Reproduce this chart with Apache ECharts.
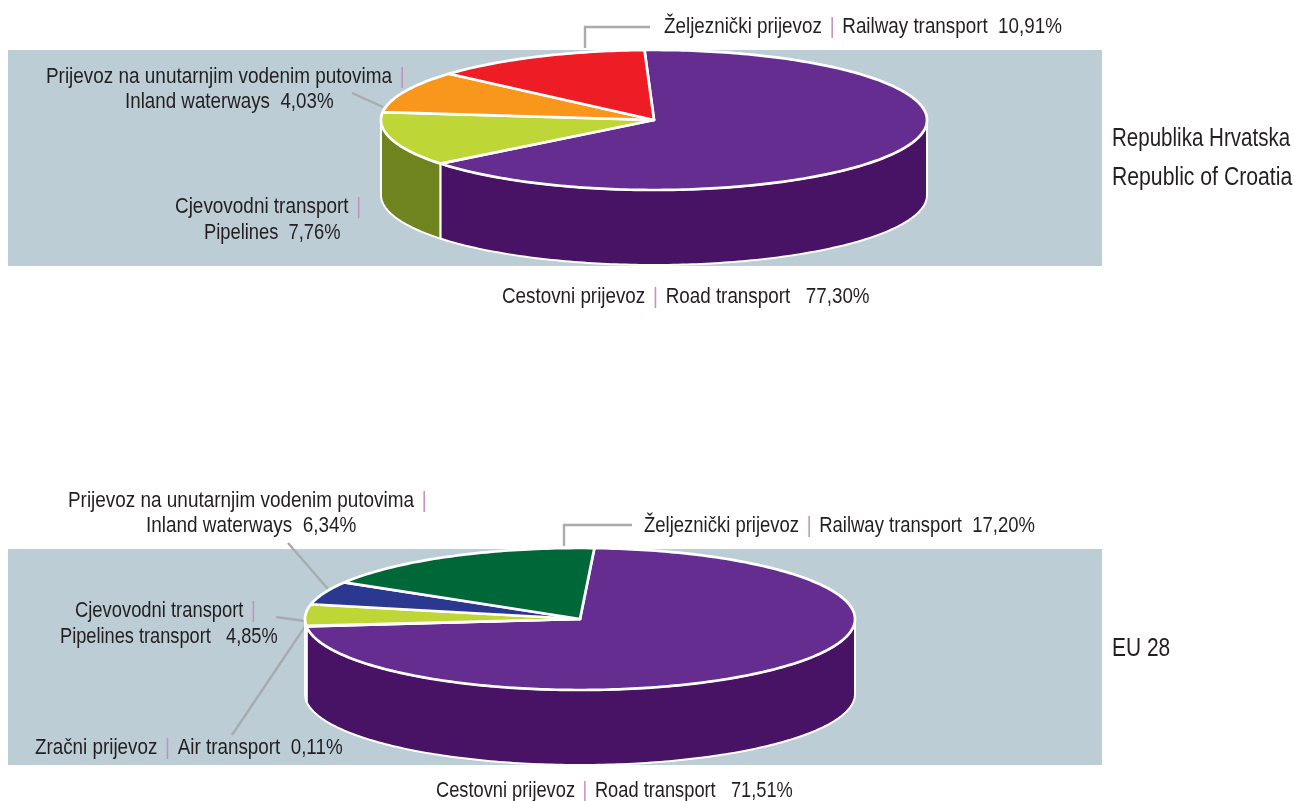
<!DOCTYPE html>
<html><head><meta charset="utf-8">
<style>html,body{margin:0;padding:0;background:#fff}#c{width:1294px;height:801px}</style>
<script src="https://cdn.jsdelivr.net/npm/echarts@6/dist/echarts.min.js"></script>
</head><body><div id="c"></div>
<script>
// Labelled shares, as printed on the chart (%)
const hrCategories = ['Cestovni prijevoz | Road transport','Cjevovodni transport | Pipelines','Prijevoz na unutarnjim vodenim putovima | Inland waterways','Željeznički prijevoz | Railway transport'];
const hrShares = ['77,30','7,76','4,03','10,91'];
// The source drawing is not proportional to its labels: sweeps (deg)
const hrSweeps = [233.5,45,34.8,46.7];
const hrTop  = ['#642d8f','#bed737','#f9971d','#ee1c25'];
const hrSide = ['#481365','#6f831f','#c77a14','#b9141b'];

const euCategories = ['Cestovni prijevoz | Road transport','Zračni prijevoz | Air transport','Cjevovodni transport | Pipelines transport','Prijevoz na unutarnjim vodenim putovima | Inland waterways','Željeznički prijevoz | Railway transport'];
const euShares = ['71,51','0,11','4,85','6,34','17,20'];
const euSweeps = [261,0.5,17.5,19,62];
const euTop  = ['#642d8f','#642d8f','#bed737','#2b388f','#006838'];
const euSide = ['#481365','#481365','#481365','#1f2a6b','#004d29'];

const panelLabels = ['Republika Hrvatska','Republic of Croatia','EU 28'];

const INK='#231f20', PINK='#c490c4', GREY='#a9abae', FONT='"Liberation Sans",sans-serif';
const LABEL_SIZE=22, LABEL_SQUEEZE=0.855, PANEL_SIZE=26;

function pieSeries(names,shares,sweeps,top,side,geo){
  let acc=[],a=geo.start; sweeps.forEach(s=>{acc.push(a);a+=s;});
  const pt=(deg,dy)=>{const r=deg*Math.PI/180;return [geo.cx+geo.rx*Math.cos(r),geo.cy+geo.ry*Math.sin(r)+(dy||0)];};
  return {type:'custom',coordinateSystem:'none',silent:true,animation:false,z:3,
    data:names.map((n,i)=>({name:n,value:[sweeps[i],parseFloat(shares[i].replace(',','.'))]})),
    renderItem(params,api){
      const i=params.dataIndex,s=acc[i],e=s+api.value(0),kids=[];
      const topPts=[[geo.cx,geo.cy]];
      for(let d=s;d<e;d+=1)topPts.push(pt(d));
      topPts.push(pt(e));
      [[0,180],[360,540]].forEach(w=>{
        const a0=Math.max(s,w[0]),a1=Math.min(e,w[1]);
        if(a1<=a0)return;
        const up=[],dn=[];
        for(let d=a0;d<a1;d+=1){up.push(pt(d));dn.push(pt(d,geo.depth));}
        up.push(pt(a1));dn.push(pt(a1,geo.depth));
        kids.push({type:'polygon',z2:1,shape:{points:up.concat(dn.reverse())},
          style:{fill:side[i],stroke:'#fff',lineWidth:2,lineJoin:'round'}});
      });
      kids.push({type:'polygon',z2:2+(i===0?0:1),shape:{points:topPts},
        style:{fill:top[i],stroke:'#fff',lineWidth:2.7,lineJoin:'round'}});
      return {type:'group',children:kids};
    }};
}
function txt(x,y,text,sx,size){
  const fs=size||LABEL_SIZE;
  return {type:'text',x,y:y+1,z:10,silent:true,scaleX:sx||LABEL_SQUEEZE,
    style:{text,x:0,y:0,align:'left',verticalAlign:'middle',fill:INK,font:fs+'px '+FONT,
    rich:{p:{fill:PINK,font:fs+'px '+FONT,padding:[0,3,0,3]}}}};
}
const leader=pts=>({type:'polyline',z:2,silent:true,shape:{points:pts},style:{fill:'none',stroke:GREY,lineWidth:2.4}});
const rect=(x,y,w,h)=>({type:'rect',z:0,silent:true,shape:{x,y,width:w,height:h},style:{fill:'#bccdd6'}});
const cap=(c,i)=>c[i].split(' | ');
const P='{p||}';

const option={
  backgroundColor:'#fff',animation:false,
  series:[
    pieSeries(hrCategories,hrShares,hrSweeps,hrTop,hrSide,{cx:654,cy:120,rx:273,ry:70,depth:75,start:-92}),
    pieSeries(euCategories,euShares,euSweeps,euTop,euSide,{cx:580,cy:619,rx:275,ry:71,depth:75,start:-87})
  ],
  graphic:{elements:[
    rect(8,50,1094,216),rect(8,549,1094,216),
    leader([[585,48],[585,27],[650,27]]),
    leader([[352,93],[383,107]]),
    leader([[564,546],[564,525],[632,525]]),
    leader([[288,543],[328,589]]),
    leader([[276,617],[305,621]]),
    leader([[232,735],[306,625]]),
    txt(664,26,`${cap(hrCategories,3)[0]} ${P} ${cap(hrCategories,3)[1]}  ${hrShares[3]}%`,.855),
    txt(46,76,`${cap(hrCategories,2)[0]} ${P}`,.86),
    txt(125,101,`${cap(hrCategories,2)[1]}  ${hrShares[2]}%`,.853),
    txt(175,206,`${cap(hrCategories,1)[0]} ${P}`,.86),
    txt(204,232,`${cap(hrCategories,1)[1]}  ${hrShares[1]}%`,.833),
    txt(502,296,`${cap(hrCategories,0)[0]} ${P} ${cap(hrCategories,0)[1]}   ${hrShares[0]}%`,.855),
    txt(1112,138,panelLabels[0],.79,PANEL_SIZE),
    txt(1112,177,panelLabels[1],.815,PANEL_SIZE),
    txt(68,500,`${cap(euCategories,3)[0]} ${P}`,.86),
    txt(146,525,`${cap(euCategories,3)[1]}  ${euShares[3]}%`,.86),
    txt(644,525,`${cap(euCategories,4)[0]} ${P} ${cap(euCategories,4)[1]}  ${euShares[4]}%`,.84),
    txt(75,610,`${cap(euCategories,2)[0]} ${P}`,.835),
    txt(60,636,`${cap(euCategories,2)[1]}   ${euShares[2]}%`,.828),
    txt(35,747,`${cap(euCategories,1)[0]} ${P} ${cap(euCategories,1)[1]}  ${euShares[1]}%`,.855),
    txt(436,790,`${cap(euCategories,0)[0]} ${P} ${cap(euCategories,0)[1]}   ${euShares[0]}%`,.83),
    txt(1112,648,panelLabels[2],.805,PANEL_SIZE)
  ]}
};
echarts.init(document.getElementById('c'),null,{renderer:'canvas'}).setOption(option);
</script></body></html>
